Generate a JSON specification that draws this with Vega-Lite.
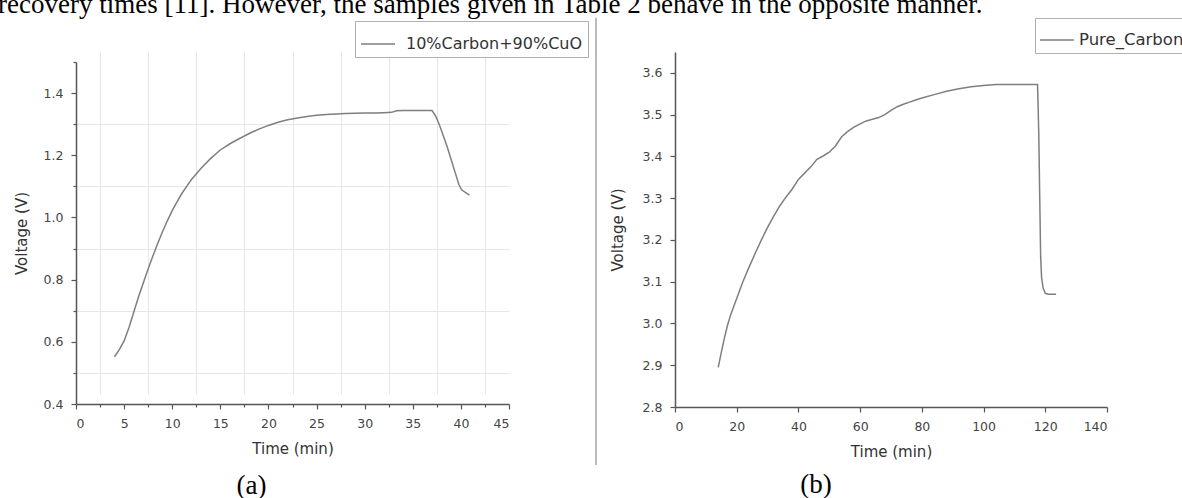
{
  "$schema": "https://vega.github.io/schema/vega-lite/v6.json",
  "background": "white",
  "padding": {"left": -2, "top": -9, "right": -6, "bottom": 0},
  "title": {
    "text": "recovery times [11]. However, the samples given in Table 2 behave in the opposite manner.",
    "font": "Liberation Serif", "fontSize": 27, "fontWeight": "normal", "color": "#000",
    "anchor": "start", "frame": "bounds", "baseline": "alphabetic", "offset": -23, "dx": -16
  },
  "datasets": {
    "a": [
      {"series": "10%Carbon+90%CuO", "t": 4.0, "v": 0.552},
      {"series": "10%Carbon+90%CuO", "t": 4.5, "v": 0.575},
      {"series": "10%Carbon+90%CuO", "t": 5.0, "v": 0.603},
      {"series": "10%Carbon+90%CuO", "t": 5.5, "v": 0.645},
      {"series": "10%Carbon+90%CuO", "t": 6.0, "v": 0.695},
      {"series": "10%Carbon+90%CuO", "t": 6.5, "v": 0.745},
      {"series": "10%Carbon+90%CuO", "t": 7.0, "v": 0.79},
      {"series": "10%Carbon+90%CuO", "t": 7.5, "v": 0.835},
      {"series": "10%Carbon+90%CuO", "t": 8.0, "v": 0.877},
      {"series": "10%Carbon+90%CuO", "t": 8.5, "v": 0.917},
      {"series": "10%Carbon+90%CuO", "t": 9.0, "v": 0.955},
      {"series": "10%Carbon+90%CuO", "t": 9.5, "v": 0.99},
      {"series": "10%Carbon+90%CuO", "t": 10.0, "v": 1.022},
      {"series": "10%Carbon+90%CuO", "t": 10.5, "v": 1.05},
      {"series": "10%Carbon+90%CuO", "t": 11.0, "v": 1.077},
      {"series": "10%Carbon+90%CuO", "t": 11.5, "v": 1.1},
      {"series": "10%Carbon+90%CuO", "t": 12.0, "v": 1.122},
      {"series": "10%Carbon+90%CuO", "t": 12.5, "v": 1.14},
      {"series": "10%Carbon+90%CuO", "t": 13.0, "v": 1.158},
      {"series": "10%Carbon+90%CuO", "t": 14.0, "v": 1.19},
      {"series": "10%Carbon+90%CuO", "t": 15.0, "v": 1.217},
      {"series": "10%Carbon+90%CuO", "t": 16.0, "v": 1.237},
      {"series": "10%Carbon+90%CuO", "t": 17.0, "v": 1.254},
      {"series": "10%Carbon+90%CuO", "t": 18.0, "v": 1.27},
      {"series": "10%Carbon+90%CuO", "t": 19.0, "v": 1.284},
      {"series": "10%Carbon+90%CuO", "t": 20.0, "v": 1.296},
      {"series": "10%Carbon+90%CuO", "t": 21.0, "v": 1.306},
      {"series": "10%Carbon+90%CuO", "t": 22.0, "v": 1.314},
      {"series": "10%Carbon+90%CuO", "t": 23.0, "v": 1.32},
      {"series": "10%Carbon+90%CuO", "t": 24.0, "v": 1.325},
      {"series": "10%Carbon+90%CuO", "t": 25.0, "v": 1.329},
      {"series": "10%Carbon+90%CuO", "t": 26.0, "v": 1.331},
      {"series": "10%Carbon+90%CuO", "t": 27.0, "v": 1.333},
      {"series": "10%Carbon+90%CuO", "t": 28.0, "v": 1.334},
      {"series": "10%Carbon+90%CuO", "t": 29.0, "v": 1.335},
      {"series": "10%Carbon+90%CuO", "t": 30.0, "v": 1.336},
      {"series": "10%Carbon+90%CuO", "t": 31.0, "v": 1.336},
      {"series": "10%Carbon+90%CuO", "t": 32.0, "v": 1.337},
      {"series": "10%Carbon+90%CuO", "t": 32.8, "v": 1.338},
      {"series": "10%Carbon+90%CuO", "t": 33.3, "v": 1.343},
      {"series": "10%Carbon+90%CuO", "t": 34.0, "v": 1.344},
      {"series": "10%Carbon+90%CuO", "t": 35.0, "v": 1.344},
      {"series": "10%Carbon+90%CuO", "t": 36.0, "v": 1.344},
      {"series": "10%Carbon+90%CuO", "t": 37.0, "v": 1.344},
      {"series": "10%Carbon+90%CuO", "t": 37.4, "v": 1.325},
      {"series": "10%Carbon+90%CuO", "t": 37.8, "v": 1.295},
      {"series": "10%Carbon+90%CuO", "t": 38.2, "v": 1.26},
      {"series": "10%Carbon+90%CuO", "t": 38.6, "v": 1.225},
      {"series": "10%Carbon+90%CuO", "t": 39.0, "v": 1.185},
      {"series": "10%Carbon+90%CuO", "t": 39.4, "v": 1.145},
      {"series": "10%Carbon+90%CuO", "t": 39.8, "v": 1.105},
      {"series": "10%Carbon+90%CuO", "t": 40.1, "v": 1.088},
      {"series": "10%Carbon+90%CuO", "t": 40.5, "v": 1.08},
      {"series": "10%Carbon+90%CuO", "t": 40.9, "v": 1.072}
    ],
    "b": [
      {"series": "Pure_Carbon", "t": 14, "v": 2.895},
      {"series": "Pure_Carbon", "t": 15, "v": 2.93},
      {"series": "Pure_Carbon", "t": 16, "v": 2.965},
      {"series": "Pure_Carbon", "t": 17, "v": 2.995},
      {"series": "Pure_Carbon", "t": 18, "v": 3.02},
      {"series": "Pure_Carbon", "t": 19, "v": 3.04},
      {"series": "Pure_Carbon", "t": 20, "v": 3.06},
      {"series": "Pure_Carbon", "t": 22, "v": 3.1},
      {"series": "Pure_Carbon", "t": 24, "v": 3.135},
      {"series": "Pure_Carbon", "t": 26, "v": 3.168},
      {"series": "Pure_Carbon", "t": 28, "v": 3.2},
      {"series": "Pure_Carbon", "t": 30, "v": 3.23},
      {"series": "Pure_Carbon", "t": 32, "v": 3.257},
      {"series": "Pure_Carbon", "t": 34, "v": 3.282},
      {"series": "Pure_Carbon", "t": 36, "v": 3.303},
      {"series": "Pure_Carbon", "t": 38, "v": 3.322},
      {"series": "Pure_Carbon", "t": 40, "v": 3.345},
      {"series": "Pure_Carbon", "t": 42, "v": 3.36},
      {"series": "Pure_Carbon", "t": 44, "v": 3.375},
      {"series": "Pure_Carbon", "t": 46, "v": 3.393},
      {"series": "Pure_Carbon", "t": 48, "v": 3.401},
      {"series": "Pure_Carbon", "t": 50, "v": 3.41},
      {"series": "Pure_Carbon", "t": 52, "v": 3.425},
      {"series": "Pure_Carbon", "t": 54, "v": 3.447},
      {"series": "Pure_Carbon", "t": 56, "v": 3.46},
      {"series": "Pure_Carbon", "t": 58, "v": 3.47},
      {"series": "Pure_Carbon", "t": 60, "v": 3.478},
      {"series": "Pure_Carbon", "t": 62, "v": 3.485},
      {"series": "Pure_Carbon", "t": 64, "v": 3.489},
      {"series": "Pure_Carbon", "t": 66, "v": 3.493},
      {"series": "Pure_Carbon", "t": 68, "v": 3.5},
      {"series": "Pure_Carbon", "t": 70, "v": 3.51},
      {"series": "Pure_Carbon", "t": 72, "v": 3.519},
      {"series": "Pure_Carbon", "t": 74, "v": 3.525},
      {"series": "Pure_Carbon", "t": 76, "v": 3.53},
      {"series": "Pure_Carbon", "t": 78, "v": 3.535},
      {"series": "Pure_Carbon", "t": 80, "v": 3.54},
      {"series": "Pure_Carbon", "t": 84, "v": 3.548},
      {"series": "Pure_Carbon", "t": 88, "v": 3.556},
      {"series": "Pure_Carbon", "t": 92, "v": 3.562},
      {"series": "Pure_Carbon", "t": 96, "v": 3.567},
      {"series": "Pure_Carbon", "t": 100, "v": 3.57},
      {"series": "Pure_Carbon", "t": 104, "v": 3.572},
      {"series": "Pure_Carbon", "t": 110, "v": 3.572},
      {"series": "Pure_Carbon", "t": 117.5, "v": 3.572},
      {"series": "Pure_Carbon", "t": 117.9, "v": 3.45},
      {"series": "Pure_Carbon", "t": 118.2, "v": 3.3},
      {"series": "Pure_Carbon", "t": 118.5, "v": 3.16},
      {"series": "Pure_Carbon", "t": 118.8, "v": 3.11},
      {"series": "Pure_Carbon", "t": 119.3, "v": 3.085},
      {"series": "Pure_Carbon", "t": 120, "v": 3.072},
      {"series": "Pure_Carbon", "t": 121, "v": 3.07},
      {"series": "Pure_Carbon", "t": 123.5, "v": 3.07}
    ]
  },
  "config": {
    "view": {"stroke": null},
    "axis": {
      "domainColor": "#555", "domainWidth": 1.5, "tickColor": "#555", "tickWidth": 1.2,
      "labelFont": "DejaVu Sans", "labelFontSize": 12.5, "labelColor": "#444",
      "titleFont": "DejaVu Sans", "titleFontSize": 15, "titleFontWeight": "normal", "titleColor": "#333",
      "gridColor": "#e6e6e6", "gridWidth": 1
    }
  },
  "bounds": "flush",
  "spacing": 166,
  "resolve": {"scale": {"color": "independent"}, "legend": {"color": "independent"}},
  "hconcat": [
    {
      "width": 433,
      "height": 352,
      "data": {"name": "a"},
      "title": {"text": "(a)", "orient": "bottom", "frame": "group", "anchor": "middle", "dx": -41, "offset": 16,
                "font": "Liberation Serif", "fontSize": 27, "fontWeight": "normal", "color": "#000", "baseline": "top"},
      "mark": {"type": "line", "strokeWidth": 1.5},
      "encoding": {
        "x": {
          "field": "t", "type": "quantitative",
          "scale": {"domain": [0, 45], "nice": false, "zero": false},
          "axis": {
            "title": "Time (min)",
            "values": [0, 2.5, 5, 7.5, 10, 12.5, 15, 17.5, 20, 22.5, 25, 27.5, 30, 32.5, 35, 37.5, 40, 42.5, 45],
            "format": "d",
            "labelExpr": "datum.value % 5 === 0 ? datum.label : ''",
            "tickSize": {"condition": {"test": "datum.value % 5 === 0", "value": 5}, "value": 3},
            "grid": true,
            "gridOpacity": {"condition": {"test": "datum.value % 5 === 0", "value": 0}, "value": 1},
            "labelPadding": 8, "titlePadding": 12
          }
        },
        "y": {
          "field": "v", "type": "quantitative",
          "scale": {"domain": [0.4, 1.5], "nice": false, "zero": false, "range": [352, 10]},
          "axis": {
            "title": "Voltage (V)",
            "values": [0.4, 0.5, 0.6, 0.7, 0.8, 0.9, 1.0, 1.1, 1.2, 1.3, 1.4, 1.5],
            "format": ".1f",
            "labelExpr": "abs(datum.value * 5 - round(datum.value * 5)) < 0.001 ? datum.label : ''",
            "tickSize": {"condition": {"test": "abs(datum.value * 5 - round(datum.value * 5)) < 0.001", "value": 5}, "value": 3},
            "grid": true,
            "gridOpacity": {"condition": {"test": "abs(datum.value * 5 - round(datum.value * 5)) < 0.001 || datum.value > 1.45", "value": 0}, "value": 1},
            "labelPadding": 8, "titlePadding": 14
          }
        },
        "color": {
          "field": "series", "type": "nominal",
          "scale": {"range": ["#7f7f7f"]},
          "legend": {
            "title": null, "orient": "none", "legendX": 279, "legendY": -31,
            "strokeColor": "#b0b0b0", "fillColor": "#ffffff", "padding": 5,
            "symbolType": "stroke", "symbolSize": 1156, "symbolStrokeWidth": 1.5,
            "labelFont": "DejaVu Sans", "labelFontSize": 16, "labelColor": "#333", "labelOffset": 10, "labelLimit": 400
          }
        }
      }
    },
    {
      "width": 432,
      "height": 355,
      "title": {"text": "(b)", "orient": "bottom", "frame": "group", "anchor": "middle", "dx": -75, "offset": 6,
                "font": "Liberation Serif", "fontSize": 27, "fontWeight": "normal", "color": "#000", "baseline": "top"},
      "layer": [
        {
          "data": {"name": "b"},
          "mark": {"type": "line", "strokeWidth": 1.5},
          "encoding": {
            "x": {
              "field": "t", "type": "quantitative",
              "scale": {"domain": [0, 140], "nice": false, "zero": false},
              "axis": {
                "title": "Time (min)",
                "values": [0, 10, 20, 30, 40, 50, 60, 70, 80, 90, 100, 110, 120, 130, 140],
                "format": "d",
                "labelExpr": "datum.value % 20 === 0 ? datum.label : ''",
                "tickSize": {"condition": {"test": "datum.value % 20 === 0", "value": 5}, "value": 3},
                "grid": true,
                "gridOpacity": {"condition": {"test": "datum.value % 20 === 0", "value": 0}, "value": 1},
                "labelPadding": 8, "titlePadding": 12
              }
            },
            "y": {
              "field": "v", "type": "quantitative",
              "scale": {"domain": [2.8, 3.65], "nice": false, "zero": false},
              "axis": {
                "title": "Voltage (V)",
                "values": [2.8, 2.85, 2.9, 2.95, 3.0, 3.05, 3.1, 3.15, 3.2, 3.25, 3.3, 3.35, 3.4, 3.45, 3.5, 3.55, 3.6, 3.65],
                "format": ".1f",
                "labelExpr": "abs(datum.value * 10 - round(datum.value * 10)) < 0.001 ? datum.label : ''",
                "tickSize": {"condition": {"test": "abs(datum.value * 10 - round(datum.value * 10)) < 0.001", "value": 5}, "value": 3},
                "grid": true,
                "gridOpacity": {"condition": {"test": "abs(datum.value * 10 - round(datum.value * 10)) < 0.001 || datum.value > 3.6", "value": 0}, "value": 1},
                "labelPadding": 8, "titlePadding": 17
              }
            },
            "color": {
              "field": "series", "type": "nominal",
              "scale": {"range": ["#7f7f7f"]},
              "legend": {
                "title": null, "orient": "none", "legendX": 360, "legendY": -34,
                "strokeColor": "#b0b0b0", "fillColor": "#ffffff", "padding": 4,
                "symbolType": "stroke", "symbolSize": 1156, "symbolStrokeWidth": 1.5,
                "labelFont": "DejaVu Sans", "labelFontSize": 16.5, "labelColor": "#333", "labelOffset": 4, "labelLimit": 400
              }
            }
          }
        },
        {
          "data": {"values": [{}]},
          "mark": {"type": "rule", "color": "#777777", "strokeWidth": 1},
          "encoding": {
            "x": {"datum": -25.6, "type": "quantitative"},
            "y": {"datum": 3.732, "type": "quantitative"},
            "y2": {"datum": 2.661}
          }
        }
      ]
    }
  ]
}
